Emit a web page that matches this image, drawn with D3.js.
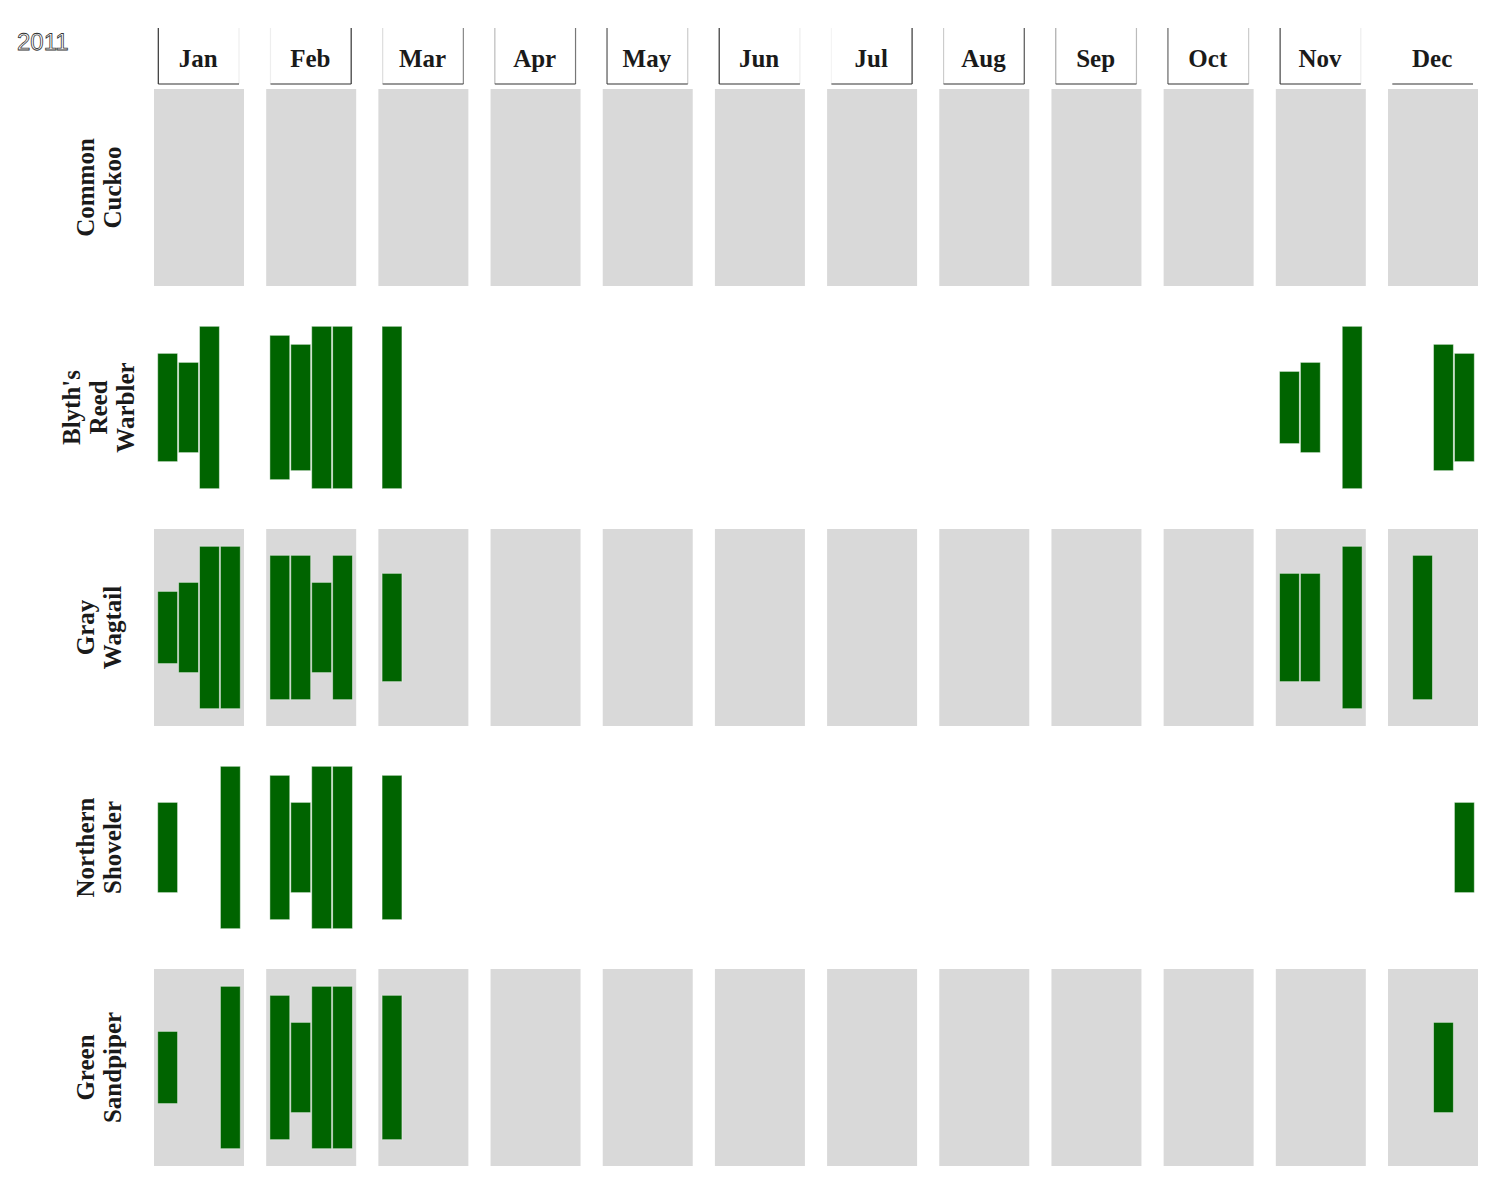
<!DOCTYPE html>
<html>
<head>
<meta charset="utf-8">
<script src="https://cdn.jsdelivr.net/npm/d3@7"></script>
<style>
  html, body { margin: 0; padding: 0; background: #fff; }
  svg { display: block; }
</style>
</head>
<body>
<svg id="chart" width="1500" height="1200"></svg>
<script>
// ---- data ----
const yearLabel = "2011";
const months = ["Jan","Feb","Mar","Apr","May","Jun","Jul","Aug","Sep","Oct","Nov","Dec"];
const weeks = [1, 2, 3, 4];
const species = ["Common\nCuckoo", "Blyth's\nReed\nWarbler", "Gray\nWagtail", "Northern\nShoveler", "Green\nSandpiper"];

// weekly counts per month (4 weeks each)
const commonCuckoo = [
  [0,0,0,0],[0,0,0,0],[0,0,0,0],[0,0,0,0],[0,0,0,0],[0,0,0,0],
  [0,0,0,0],[0,0,0,0],[0,0,0,0],[0,0,0,0],[0,0,0,0],[0,0,0,0]
];
const blythsReedWarbler = [
  [6,5,9,0],[8,7,9,9],[9,0,0,0],[0,0,0,0],[0,0,0,0],[0,0,0,0],
  [0,0,0,0],[0,0,0,0],[0,0,0,0],[0,0,0,0],[4,5,0,9],[0,0,7,6]
];
const grayWagtail = [
  [4,5,9,9],[8,8,5,8],[6,0,0,0],[0,0,0,0],[0,0,0,0],[0,0,0,0],
  [0,0,0,0],[0,0,0,0],[0,0,0,0],[0,0,0,0],[6,6,0,9],[0,8,0,0]
];
const northernShoveler = [
  [5,0,0,9],[8,5,9,9],[8,0,0,0],[0,0,0,0],[0,0,0,0],[0,0,0,0],
  [0,0,0,0],[0,0,0,0],[0,0,0,0],[0,0,0,0],[0,0,0,0],[0,0,0,5]
];
const greenSandpiper = [
  [4,0,0,9],[8,5,9,9],[8,0,0,0],[0,0,0,0],[0,0,0,0],[0,0,0,0],
  [0,0,0,0],[0,0,0,0],[0,0,0,0],[0,0,0,0],[0,0,0,0],[0,0,5,0]
];
const seriesValues = [commonCuckoo, blythsReedWarbler, grayWagtail, northernShoveler, greenSandpiper];

// ---- layout ----
const svg = d3.select("#chart");
const panelW = 90, panelH = 197;

const col = d3.scaleBand().domain(months).range([154, 1478]).paddingInner(22.18 / 112.18).paddingOuter(0);
const row = d3.scaleBand().domain(species).range([89, 1166]).paddingInner(23 / 220).paddingOuter(0);
const xw = d3.scaleBand().domain(weeks).range([3.7, 86.3]).paddingInner(0.05);
const y = d3.scaleLinear().domain([-5.46, 5.46]).range([panelH, 0]);

// strip border shades (sketchy look)
const stripLeft  = ["#333","#eee","#ddd","#bbb","#555","#333","#f4f4f4","#ccc","#aaa","#666","#444","#fff"];
const stripRight = ["#eee","#333","#888","#777","#ccc","#eee","#333","#555","#bbb","#ccc","#eee","#fff"];

// year label
svg.append("text")
  .attr("x", 17).attr("y", 50)
  .attr("font-family", "Liberation Sans, Arial, sans-serif")
  .attr("font-size", 24)
  .attr("fill", "#fff")
  .attr("stroke", "#333")
  .attr("stroke-width", 0.8)
  .style("text-rendering", "geometricPrecision")
  .text(yearLabel);

// strips
months.forEach((m, j) => {
  const x0 = col(m);
  const g = svg.append("g").attr("transform", `translate(${x0},0)`);
  const l = 4.3, r = 85;
  g.append("line").attr("x1", l).attr("x2", l).attr("y1", 28).attr("y2", 84)
    .attr("stroke", stripLeft[j]).attr("stroke-width", 1.2);
  g.append("line").attr("x1", r).attr("x2", r).attr("y1", 28).attr("y2", 84)
    .attr("stroke", stripRight[j]).attr("stroke-width", 1.2);
  g.append("line").attr("x1", l).attr("x2", r).attr("y1", 84).attr("y2", 84)
    .attr("stroke", "#333").attr("stroke-width", 1.2);
  g.append("text")
    .attr("x", (l + r) / 2 - 0.5).attr("y", 67)
    .attr("text-anchor", "middle")
    .attr("font-family", "Liberation Serif, Times New Roman, serif")
    .attr("font-weight", "bold")
    .attr("font-size", 25)
    .attr("fill", "#1a1a1a")
    .text(m);
});

// row labels
species.forEach((s, i) => {
  const lines = s.split("\n");
  const cy = row(s) + panelH / 2;
  const t = svg.append("text")
    .attr("transform", `translate(107,${cy}) rotate(-90)`)
    .attr("text-anchor", "middle")
    .attr("font-family", "Liberation Serif, Times New Roman, serif")
    .attr("font-weight", "bold")
    .attr("font-size", 25)
    .attr("fill", "#1a1a1a");
  lines.forEach((ln, k) => {
    t.append("tspan").attr("x", 0).attr("y", (k - (lines.length - 1) / 2) * 27).text(ln);
  });
});

// panels
species.forEach((s, i) => {
  months.forEach((m, j) => {
    const g = svg.append("g").attr("transform", `translate(${col(m)},${row(s)})`);
    if (i % 2 === 0) {
      g.append("rect").attr("width", panelW).attr("height", panelH).attr("fill", "#d9d9d9");
    }
    const vals = seriesValues[i][j];
    weeks.forEach((w, k) => {
      const v = vals[k];
      if (!v) return;
      g.append("rect")
        .attr("x", xw(w)).attr("width", xw.bandwidth())
        .attr("y", y(v / 2)).attr("height", y(-v / 2) - y(v / 2))
        .attr("fill", "#006400")
        .attr("stroke", "rgba(255,255,255,0.45)").attr("stroke-width", 1);
    });
  });
});
</script>
</body>
</html>
